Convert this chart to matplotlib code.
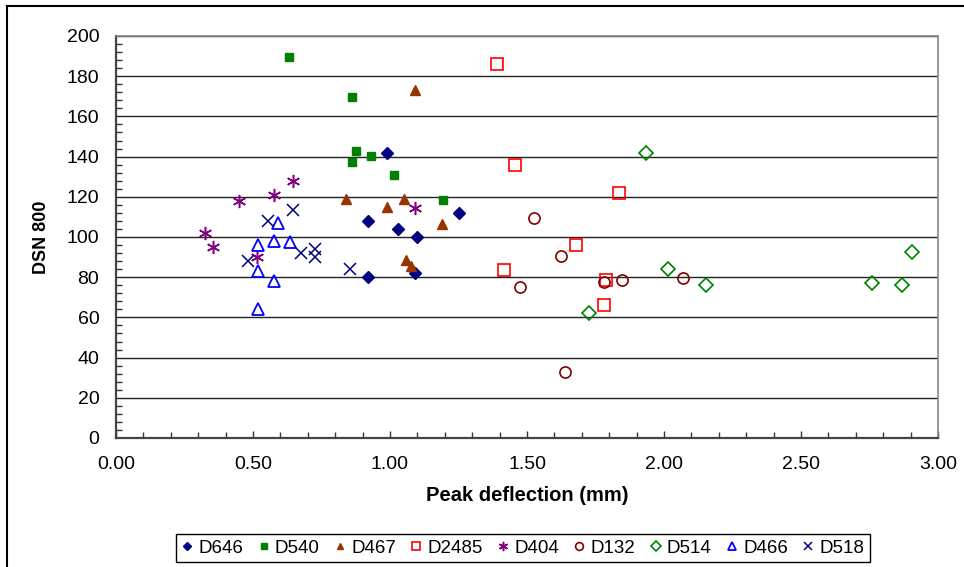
import matplotlib
matplotlib.use("Agg")
import matplotlib.pyplot as plt
from matplotlib.ticker import MultipleLocator, FormatStrFormatter
from matplotlib.lines import Line2D

plt.rcParams['font.family'] = ['Liberation Sans', 'DejaVu Sans']

# ---- data ----
d646_x = [0.99, 0.92, 1.03, 1.10, 1.25, 0.92, 1.09]
d646_y = [142, 108, 104, 100, 112, 80, 82]
d540_x = [0.63, 0.86, 0.875, 0.93, 0.86, 1.015, 1.195]
d540_y = [189.5, 169.6, 143, 140.3, 137.5, 131, 118.6]
d467_x = [1.09, 0.84, 1.05, 0.99, 1.19, 1.06, 1.075]
d467_y = [173, 119, 119, 115, 106.5, 88.5, 85.5]
d2485_x = [1.39, 1.455, 1.835, 1.68, 1.415, 1.79, 1.78]
d2485_y = [186, 136, 122, 96, 83.6, 78.6, 66]
d404_x = [0.645, 0.575, 0.45, 0.325, 0.355, 0.515, 1.09]
d404_y = [128, 121, 118, 102, 95, 90, 114.5]
d132_x = [1.525, 1.625, 1.475, 1.78, 1.845, 2.07, 1.64]
d132_y = [109.5, 90.5, 75.2, 77.4, 78.6, 79.5, 33]
d514_x = [1.935, 2.015, 1.725, 2.155, 2.76, 2.87, 2.905]
d514_y = [142, 84, 62.3, 76.3, 77, 76.3, 92.3]
d466_x = [0.59, 0.52, 0.575, 0.635, 0.52, 0.575, 0.52]
d466_y = [107, 95.8, 98.2, 97.4, 83.2, 78.2, 64.2]
d518_x = [0.555, 0.645, 0.48, 0.675, 0.725, 0.725, 0.855]
d518_y = [108, 113.5, 88, 92, 94, 90, 84]

series = [
    ("D646", d646_x, d646_y, dict(marker='D', color='#000080', mfc='#000080', ms=6.0)),
    ("D540", d540_x, d540_y, dict(marker='s', color='#008000', mfc='#008000', ms=6.0)),
    ("D467", d467_x, d467_y, dict(marker='^', color='#993300', mfc='#993300', ms=7.0)),
    ("D2485", d2485_x, d2485_y, dict(marker='s', color='#FF0000', mfc='none', ms=8.0, mew=1.2)),
    ("D404", d404_x, d404_y, dict(marker=(6, 2, 0), color='#800080', ms=9.5, mew=1.1)),
    ("D132", d132_x, d132_y, dict(marker='o', color='#800000', mfc='none', ms=8.0, mew=1.2)),
    ("D514", d514_x, d514_y, dict(marker='D', color='#008000', mfc='none', ms=7.0, mew=1.2)),
    ("D466", d466_x, d466_y, dict(marker='^', color='#0000FF', mfc='none', ms=8.0, mew=1.3)),
    ("D518", d518_x, d518_y, dict(marker='x', color='#000080', ms=8.0, mew=1.1)),
]

fig = plt.figure(figsize=(9.64, 5.67), dpi=100)
ax = fig.add_axes([116/964, 1-438/567, (938-116)/964, (438-36)/567])

for name, xs, ys, st in series:
    ax.plot(xs, ys, linestyle='none', label=name, zorder=3, **st)

ax.set_xlim(0, 3.0)
ax.set_ylim(0, 200)
ax.xaxis.set_major_locator(MultipleLocator(0.5))
ax.xaxis.set_minor_locator(MultipleLocator(0.1))
ax.yaxis.set_major_locator(MultipleLocator(20))
ax.yaxis.set_minor_locator(MultipleLocator(4))
ax.xaxis.set_major_formatter(FormatStrFormatter('%.2f'))
ax.yaxis.set_major_formatter(FormatStrFormatter('%d'))
ax.tick_params(axis='both', which='both', direction='in', labelsize=14, color='#333333')
ax.tick_params(axis='x', which='major', length=5, width=1, pad=13)
ax.tick_params(axis='x', which='minor', length=4, width=1)
ax.tick_params(axis='y', which='major', length=0, pad=12)
ax.tick_params(axis='y', which='minor', length=4, width=1)
ax.grid(axis='y', which='major', color='#222222', linewidth=1.0, zorder=1)
ax.set_axisbelow(True)

for s in ['top', 'right']:
    ax.spines[s].set_color('#888888')
    ax.spines[s].set_linewidth(1.2)
for s in ['bottom', 'left']:
    ax.spines[s].set_color('#444444')
    ax.spines[s].set_linewidth(1.6)

ax.set_xlabel('Peak deflection (mm)', fontsize=14.5, fontweight='bold', labelpad=9)
ax.set_ylabel('DSN 800', fontsize=13, fontweight='bold', labelpad=12)

# outer chart border (left and top)
fig.add_artist(Line2D([7/964, 7/964], [0, 1-6/567], color='black', lw=1.5, transform=fig.transFigure))
fig.add_artist(Line2D([7/964, 1], [1-6/567, 1-6/567], color='black', lw=1.5, transform=fig.transFigure))

leg = fig.legend(loc='center', bbox_to_anchor=(523/964, 1-548/567), ncol=9, fontsize=13.5,
                 frameon=True, fancybox=False, edgecolor='black', framealpha=1,
                 handlelength=0.6, handletextpad=0.3, columnspacing=0.78, borderpad=0.3,
                 markerscale=0.7)
leg.get_frame().set_linewidth(1.0)

fig.savefig('out.png', dpi=100)
